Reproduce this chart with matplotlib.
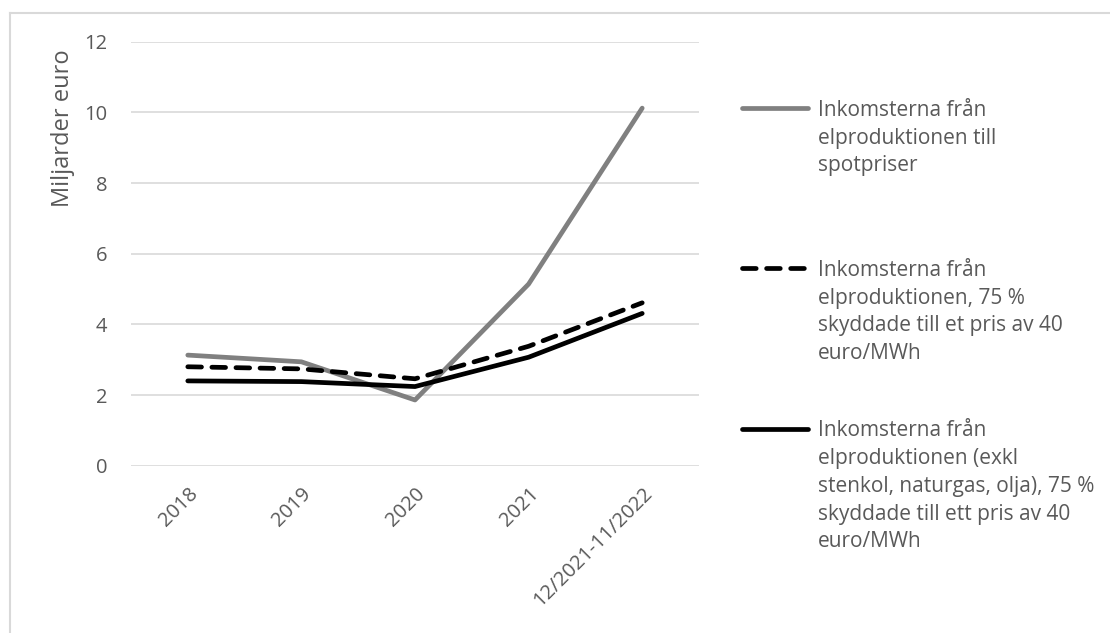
import matplotlib.pyplot as plt
from matplotlib.lines import Line2D

# yearly revenues from electricity production, billions of euro
periods = ['2018', '2019', '2020', '2021', '12/2021-11/2022']
spot = [3.13, 2.94, 1.86, 5.14, 10.12]
hedged = [2.80, 2.74, 2.46, 3.38, 4.61]
hedged_excl_fossil = [2.40, 2.38, 2.24, 3.07, 4.31]

labels = [
    'Inkomsterna från\nelproduktionen till\nspotpriser',
    'Inkomsterna från\nelproduktionen, 75 %\nskyddade till et pris av 40\neuro/MWh',
    'Inkomsterna från\nelproduktionen (exkl\nstenkol, naturgas, olja), 75 %\nskyddade till ett pris av 40\neuro/MWh',
]

plt.rcParams['font.family'] = ['Open Sans', 'DejaVu Sans']
text_col = '#595959'

W, H = 1110, 633
fig = plt.figure(figsize=(W / 100, H / 100), dpi=100)
ax = fig.add_axes([131 / W, 1 - 465.7 / H, 568 / W, 424 / H])

x = range(len(periods))
styles = [
    dict(color='#808080', lw=3.4, solid_capstyle='round'),
    dict(color='black', lw=3.4, ls=(0, (2.9, 2.2)), dash_capstyle='round'),
    dict(color='black', lw=3.4, solid_capstyle='round'),
]
for vals, st in zip([spot, hedged, hedged_excl_fossil], styles):
    ax.plot(x, vals, zorder=3, **st)

ax.set_xlim(-0.5, len(periods) - 0.5)
ax.set_ylim(0, 12)
ax.set_yticks(range(0, 13, 2))
ax.set_xticks(list(x))
ax.set_xticklabels(periods, rotation=45, ha='right', rotation_mode='anchor')
ax.tick_params(axis='both', length=0, labelsize=14.5, labelcolor=text_col)
ax.tick_params(axis='y', pad=17)
ax.tick_params(axis='x', pad=13)
ax.grid(axis='y', color='#d9d9d9', lw=1.2)
ax.set_axisbelow(True)
for s in ax.spines.values():
    s.set_visible(False)

fig.text(63 / W, 1 - 128 / H, 'Miljarder euro', rotation=90, ha='center', va='center',
         fontsize=17, color=text_col)

# legend drawn by hand so the key sits beside the first text line
leg_y = [108, 268, 428.5]
for y, st, lab in zip(leg_y, styles, labels):
    fig.add_artist(Line2D([742 / W, 808 / W], [1 - y / H, 1 - y / H], **st))
    fig.text(818 / W, 1 - (y - 8) / H, lab, ha='left', va='top', fontsize=15,
             color=text_col, linespacing=1.42)

# frame around the chart area
fig.add_artist(Line2D([10 / W, 1], [1 - 13 / H, 1 - 13 / H], color='#d9d9d9', lw=1.5))
fig.add_artist(Line2D([10 / W, 10 / W], [0, 1 - 13 / H], color='#d9d9d9', lw=1.5))

fig.savefig('out.png', dpi=100)
